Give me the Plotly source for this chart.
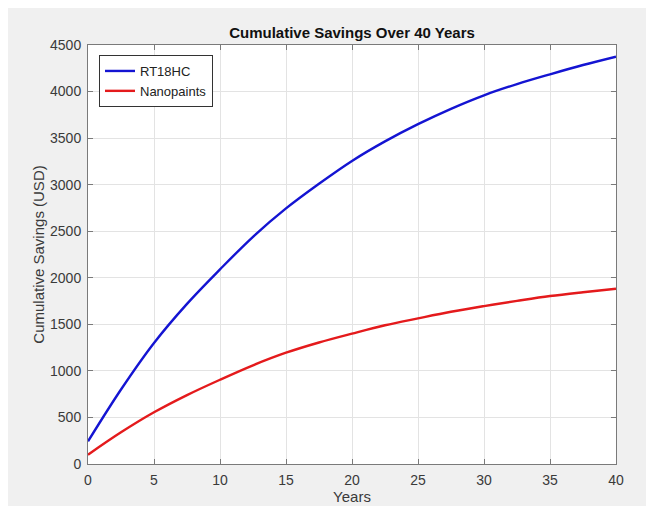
import plotly.graph_objects as go

years = [0, 2.5, 5, 7.5, 10, 12.5, 15, 17.5, 20, 22.5, 25, 27.5, 30, 32.5, 35, 37.5, 40]
rt18hc = [243, 800, 1300, 1720, 2090, 2440, 2745, 3010, 3255, 3465, 3650, 3815, 3960, 4080, 4185, 4285, 4375]
nanopaints = [100, 340, 555, 740, 905, 1060, 1195, 1305, 1400, 1490, 1564, 1635, 1696, 1752, 1804, 1845, 1882]

x_ticks = [0, 5, 10, 15, 20, 25, 30, 35, 40]
y_ticks = [0, 500, 1000, 1500, 2000, 2500, 3000, 3500, 4000, 4500]

# page has an 8px body margin, so the figure is 8px smaller each way
W, H = 646, 498
L, R, T, B = 80, 38, 37, 42
pw, ph = W - L - R, H - T - B

FONT = "Liberation Sans, Arial, sans-serif"

fig = go.Figure()
fig.add_trace(go.Scatter(x=years, y=rt18hc, mode="lines", name="RT18HC",
                         line=dict(color="#1414d2", width=2.4, shape="spline")))
fig.add_trace(go.Scatter(x=years, y=nanopaints, mode="lines", name="Nanopaints",
                         line=dict(color="#e41a1c", width=2.4, shape="spline")))

axis_common = dict(
    showline=True, linecolor="#7a7a7a", linewidth=1, mirror="ticks",
    ticks="inside", ticklen=5, tickcolor="#7a7a7a",
    showgrid=True, gridcolor="#e3e3e3", gridwidth=1, zeroline=False,
    ticklabelstandoff=3, automargin=False,
    tickfont=dict(family=FONT, size=14, color="#3a3a3a"),
)

fig.update_xaxes(range=[0, 40], tickvals=x_ticks, ticktext=[str(v) for v in x_ticks],
                 title=dict(text="Years", standoff=3,
                            font=dict(family=FONT, size=15, color="#3a3a3a")),
                 **axis_common)
fig.update_yaxes(range=[0, 4500], tickvals=y_ticks, ticktext=[str(v) for v in y_ticks],
                 title=dict(text="Cumulative Savings (USD)", standoff=1,
                            font=dict(family=FONT, size=15, color="#3a3a3a")),
                 **axis_common)

fig.update_layout(
    width=W, height=H,
    margin=dict(l=L, r=R, t=T, b=B),
    paper_bgcolor="#f0f0f0", plot_bgcolor="white",
    title=dict(text="<b>Cumulative Savings Over 40 Years</b>", x=(L + pw / 2) / W, xanchor="center",
               y=1 - 25 / H, yanchor="middle",
               font=dict(family=FONT, size=15, color="#111111")),
    legend=dict(x=11 / pw, y=(ph - 10) / ph, xanchor="left", yanchor="top",
                bgcolor="white", bordercolor="#333333", borderwidth=1,
                font=dict(family=FONT, size=13, color="#222222"),
                tracegroupgap=0, itemwidth=30),
    showlegend=True,
)

fig.write_html("out.html")
